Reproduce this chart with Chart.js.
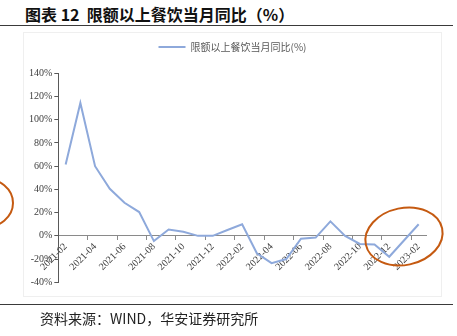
<!DOCTYPE html>
<html>
<head>
<meta charset="utf-8">
<script src="https://cdn.jsdelivr.net/npm/chart.js@4"></script>
<style>
  html, body { margin: 0; padding: 0; background: #fff; }
  #wrap { position: relative; width: 457px; height: 336px; overflow: hidden; }
  .title { position: absolute; left: 25px; top: 4px; font: bold 16px "Noto Sans CJK SC", sans-serif; line-height: 20px; color: #111; white-space: nowrap; }
  .rule { position: absolute; left: 0; width: 453px; height: 1px; background: #3a3a3a; }
  .box { position: absolute; left: 23px; top: 32px; width: 417px; height: 263px; border: 1px solid #efefef; }
  .src { position: absolute; left: 40px; top: 309px; font: 14px "Noto Sans CJK SC", sans-serif; line-height: 18px; color: #222; white-space: nowrap; }
  canvas { position: absolute; left: 0; top: 0; }
  svg { position: absolute; left: 0; top: 0; }
</style>
</head>
<body>
<div id="wrap">
  <div class="title">图表 12&nbsp;&nbsp;限额以上餐饮当月同比（%）</div>
  <div class="rule" style="top:25px"></div>
  <div class="box"></div>
  <canvas id="chart" width="457" height="336"></canvas>
  <svg width="457" height="336">
    <ellipse cx="-17" cy="203" rx="30" ry="25" fill="none" stroke="#C55A11" stroke-width="2"/>
    <ellipse cx="404" cy="236.5" rx="39" ry="28.5" fill="none" stroke="#C55A11" stroke-width="2" transform="rotate(-12 404 236.5)"/>
  </svg>
  <div class="rule" style="top:304px"></div>
  <div class="src">资料来源：WIND，华安证券研究所</div>
</div>
<script>
  // 月份 & 同比 (%)
  const months = [
    "2021-02", "2021-03", "2021-04", "2021-05", "2021-06", "2021-07", "2021-08", "2021-09",
    "2021-10", "2021-11", "2021-12", "2022-01", "2022-02", "2022-03", "2022-04", "2022-05",
    "2022-06", "2022-07", "2022-08", "2022-09", "2022-10", "2022-11", "2022-12", "2023-01", "2023-02"
  ];
  const yoy = [
    61.5, 114.5, 60, 40.5, 28.5, 20.5, -4.5, 5.5,
    3.5, 0, 0, 5, 10, -15, -23.5, -20,
    -2.5, -1.5, 12.5, 0, -7, -7.5, -18, -4, 10
  ];
  const yTicks = { min: -40, max: 140, step: 20 };

  const LINE = "#8EA9DB";
  const AXIS = "#8a8a8a";

  // legend: extra room below it, centred on the framed box
  const legendFix = {
    id: "legendFix",
    beforeInit(chart) {
      const fit = chart.legend.fit;
      chart.legend.fit = function () { fit.bind(chart.legend)(); this.height += 11.3; };
    },
    afterLayout(chart) {
      chart.legend.left += 19.5;
      chart.legend.right += 19.5;
    }
  };

  new Chart(document.getElementById("chart"), {
    type: "line",
    data: {
      labels: months,
      datasets: [{
        label: "限额以上餐饮当月同比(%)",
        data: yoy,
        borderColor: LINE, backgroundColor: LINE,
        borderWidth: 2, pointRadius: 0, tension: 0, fill: false
      }]
    },
    options: {
      responsive: false, animation: false,
      layout: { padding: { left: 0, right: 31, top: 32, bottom: 53.7 } },
      plugins: {
        legend: {
          position: "top",
          labels: {
            usePointStyle: true, pointStyle: "line", pointStyleWidth: 27,
            color: "#595959", padding: 10,
            font: { family: "Noto Sans CJK SC", size: 10 }
          }
        },
        tooltip: { enabled: false }
      },
      scales: {
        x: {
          type: "category",
          position: { y: 0 },
          offset: true,
          border: { color: AXIS, width: 1 },
          grid: {
            offset: true, drawOnChartArea: false, tickLength: 4,
            color: (c) => c.index % 2 === 0 ? AXIS : "rgba(0,0,0,0)"
          },
          ticks: {
            autoSkip: false, maxRotation: 45, minRotation: 45, padding: 1,
            color: "#404040", font: { family: "Liberation Serif", size: 10 },
            callback: (v, i) => i % 2 === 0 ? months[i] : ""
          }
        },
        y: {
          min: yTicks.min, max: yTicks.max,
          afterFit: (s) => { s.width = 58.3; },
          border: { color: "#595959", width: 1 },
          grid: { drawOnChartArea: false, tickLength: 4, color: "#595959" },
          ticks: {
            stepSize: yTicks.step, padding: 2,
            color: "#404040", font: { family: "Liberation Serif", size: 10 },
            callback: (v) => v + "%"
          }
        }
      }
    },
    plugins: [legendFix]
  });
</script>
</body>
</html>
